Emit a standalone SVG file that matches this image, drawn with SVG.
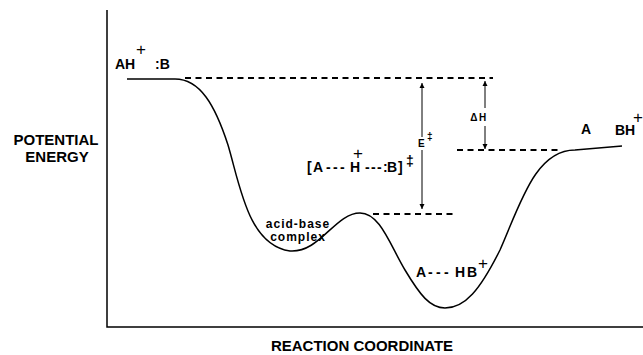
<svg xmlns="http://www.w3.org/2000/svg" width="643" height="355" viewBox="0 0 643 355">
<style>
text{font-family:"Liberation Sans","DejaVu Sans",sans-serif;fill:#000;}
.lbl{font-size:14px;font-weight:bold;}
.sup{font-size:17px;}
.small{font-size:12px;letter-spacing:1px;font-weight:bold;}
.tiny{font-size:10px;font-weight:bold;}
.axis{stroke:#000;stroke-width:1.5;fill:none;}
.curve{stroke:#000;stroke-width:1.5;fill:none;}
.dash{stroke:#000;stroke-width:2;stroke-dasharray:6 4.5;fill:none;}
.arr{stroke:#000;stroke-width:1;fill:none;marker-end:url(#ah);}
</style>
<defs>
<marker id="ah" viewBox="0 0 10 10" refX="10" refY="5" markerWidth="5" markerHeight="8" markerUnits="userSpaceOnUse" orient="auto">
<path d="M0,0 L10,5 L0,10 z" fill="#000"/>
</marker>
</defs>
<g id="axes">
<path class="axis" d="M107,10 L107,327 L643,327"/>
<text class="lbl" x="56" y="145" text-anchor="middle" style="font-size:15px">POTENTIAL</text>
<text class="lbl" x="57" y="162" text-anchor="middle" style="font-size:15px">ENERGY</text>
<text class="lbl" x="362" y="351" text-anchor="middle" style="font-size:15px">REACTION COORDINATE</text>
</g>
<g id="curve">
<path class="curve" d="M127,79 L175,79 C200,79 215,105 228,145 C240,185 248,245 290,251 C320,253 335,213 360,213 C380,213 390,245 405,270 C420,295 430,308 445,308 C465,308 480,290 500,250 C520,205 535,150 575,150 L622,146"/>
</g>
<g id="connectors">
<path class="dash" d="M185,78 L493,78"/>
<path class="dash" d="M457,150 L558,150"/>
<path class="dash" d="M373,214 L455,214"/>
<line class="arr" x1="422" y1="137" x2="422" y2="83"/>
<line class="arr" x1="422" y1="150" x2="422" y2="209"/>
<line class="arr" x1="485" y1="108" x2="485" y2="81"/>
<line class="arr" x1="485" y1="126" x2="485" y2="149"/>
</g>
<g id="reactants">
<text class="lbl" x="115" y="69">AH</text>
<text class="sup" x="136" y="55">+</text>
<text class="lbl" x="155" y="69">:B</text>
</g>
<g id="transition-state">
<text class="lbl" x="307 313 326 333 340 350 365 371 377 383 387 398" y="172">[A---H---:B]</text>
<text class="sup" x="353" y="159">+</text>
<text class="lbl" x="406" y="166">‡</text>
<text class="tiny" x="418" y="147">E</text>
<text class="tiny" x="427" y="140">‡</text>
</g>
<g id="delta-h">
<text class="tiny" x="479" y="121" text-anchor="middle" style="letter-spacing:1.5px">ΔH</text>
</g>
<g id="acid-base-complex">
<text class="small" x="298" y="228" text-anchor="middle">acid-base</text>
<text class="small" x="298" y="241" text-anchor="middle">complex</text>
</g>
<g id="ion-pair">
<text class="lbl" x="416 428 436 444 455 467" y="277">A---HB</text>
<text class="sup" x="478" y="269">+</text>
</g>
<g id="products">
<text class="lbl" x="581" y="134">A</text>
<text class="lbl" x="615" y="135">BH</text>
<text class="sup" x="633" y="123">+</text>
</g>
</svg>
